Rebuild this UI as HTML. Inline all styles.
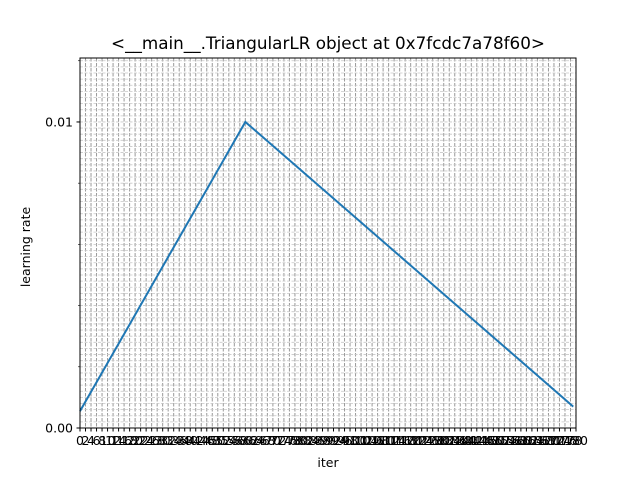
<!DOCTYPE html>
<html><head><meta charset="utf-8"><style>
body{margin:0;background:#fff}
svg{font-family:"DejaVu Sans","Liberation Sans",sans-serif}
</style></head><body>
<svg id="chart" width="640" height="480">
<rect width="640" height="480" fill="#fff"/>
<g id="grid"></g>
<g id="ticks"></g>
<polyline id="line" fill="none" stroke="#1f77b4" stroke-width="2"/>
<rect x="80" y="58" width="496" height="370" fill="none" stroke="#000" stroke-width="1"/>
<text x="328" y="49" font-size="16.5" text-anchor="middle" textLength="434" lengthAdjust="spacingAndGlyphs">&lt;__main__.TriangularLR object at 0x7fcdc7a78f60&gt;</text>
<text x="328" y="467" font-size="12.5" text-anchor="middle">iter</text>
<text transform="translate(30,247) rotate(-90)" font-size="12.5" text-anchor="middle">learning rate</text>
</svg>
<script>
const xIters = [0, 60, 179];
const yRates = [0.00055, 0.01, 0.0007];
const yTickValues = [0, 0.01];
const yTickLabels = ["0.00", "0.01"];
const X0=80,X1=576,Y0=428,Y1=58, XMIN=0, XMAX=180, YMIN=0, YMAX=0.01209;
const sx=v=>X0+(v-XMIN)/(XMAX-XMIN)*(X1-X0);
const sy=v=>Y0-(v-YMIN)/(YMAX-YMIN)*(Y0-Y1);
const NS="http://www.w3.org/2000/svg";
const grid=document.getElementById('grid'), ticks=document.getElementById('ticks');
function mk(tag,attrs,parent){const e=document.createElementNS(NS,tag);for(const k in attrs)e.setAttribute(k,attrs[k]);parent.appendChild(e);return e;}
for(let v=0;v<=XMAX;v+=2){
  const x=sx(v);
  const g=mk('line',{x1:x,x2:x,y1:Y1,y2:Y0,stroke:'#999','stroke-width':1,'stroke-dasharray':'3.5,1.5'},grid);
  
  
  const t=mk('line',{x1:x,x2:x,y1:Y0,y2:Y0+3.5,stroke:'#000','stroke-width':1},ticks);
  
  
  const l=mk('text',{x:x,y:Y0+17,'font-size':12.5,'text-anchor':'middle'},ticks);
  l.textContent=String(v);
  
  
}
for(let i=0;i*0.0002<=YMAX;i++){
  const y=sy(i*0.0002);
  const g=mk('line',{x1:X0,x2:X1,y1:y,y2:y,stroke:'#c8c8c8','stroke-width':0.8,'stroke-dasharray':'3,1.5'},grid);
  
  
  if(i%10===0){
    const t=mk('line',{x1:X0-2,x2:X0,y1:y,y2:y,stroke:'#000','stroke-width':0.6},ticks);
    
    
  }
}
yTickValues.forEach((v,i)=>{
  const y=sy(v);
  const t=mk('line',{x1:X0-3.5,x2:X0,y1:y,y2:y,stroke:'#000','stroke-width':1},ticks);
  
  
  const l=mk('text',{x:X0-7,y:y+4.5,'font-size':12.5,'text-anchor':'end'},ticks);
  l.textContent=yTickLabels[i];
  
  
});
document.getElementById('line').setAttribute('points',xIters.map((x,i)=>sx(x)+','+sy(yRates[i])).join(' '));
</script>
</body></html>
